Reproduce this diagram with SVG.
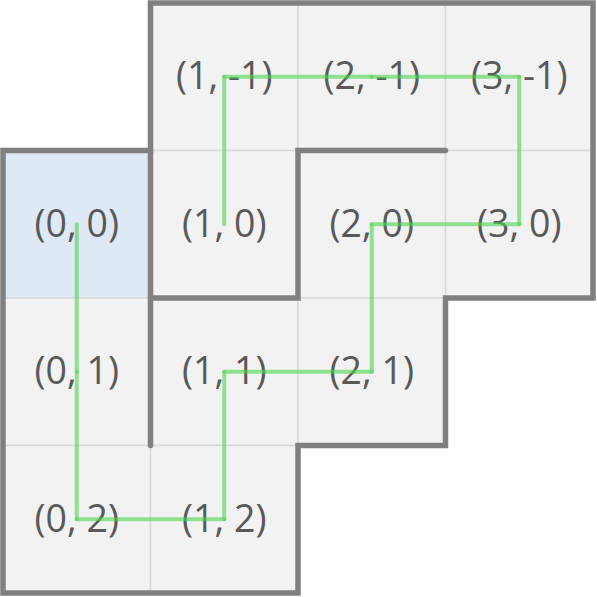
<svg xmlns="http://www.w3.org/2000/svg" width="597" height="597" viewBox="0 0 597 597">
<style>
.cell{fill:#f2f2f2;stroke:#d9d9d9;stroke-width:1.5}
.start{fill:#dee9f5}
.lbl{font-family:"Open Sans","Liberation Sans",sans-serif;font-size:37.5px;fill:#595959;text-anchor:middle}
.wall{fill:none;stroke:#808080;stroke-width:5.5;stroke-linecap:round;stroke-linejoin:miter}
.seg{stroke:#4cd44c;stroke-opacity:0.6;stroke-width:4;stroke-linecap:round}
</style>
<rect width="597" height="597" fill="#ffffff"/>
<g id="cell-1_-1"><rect class="cell" x="150.5" y="3" width="147.5" height="147.5"/><text class="lbl" x="224.25" y="89">(1, -1)</text></g>
<g id="cell-2_-1"><rect class="cell" x="298" y="3" width="147.5" height="147.5"/><text class="lbl" x="371.75" y="89">(2, -1)</text></g>
<g id="cell-3_-1"><rect class="cell" x="445.5" y="3" width="147.5" height="147.5"/><text class="lbl" x="519.25" y="89">(3, -1)</text></g>
<g id="cell-0_0"><rect class="cell start" x="3" y="150.5" width="147.5" height="147.5"/><text class="lbl" x="76.75" y="236.5">(0, 0)</text></g>
<g id="cell-1_0"><rect class="cell" x="150.5" y="150.5" width="147.5" height="147.5"/><text class="lbl" x="224.25" y="236.5">(1, 0)</text></g>
<g id="cell-2_0"><rect class="cell" x="298" y="150.5" width="147.5" height="147.5"/><text class="lbl" x="371.75" y="236.5">(2, 0)</text></g>
<g id="cell-3_0"><rect class="cell" x="445.5" y="150.5" width="147.5" height="147.5"/><text class="lbl" x="519.25" y="236.5">(3, 0)</text></g>
<g id="cell-0_1"><rect class="cell" x="3" y="298" width="147.5" height="147.5"/><text class="lbl" x="76.75" y="384">(0, 1)</text></g>
<g id="cell-1_1"><rect class="cell" x="150.5" y="298" width="147.5" height="147.5"/><text class="lbl" x="224.25" y="384">(1, 1)</text></g>
<g id="cell-2_1"><rect class="cell" x="298" y="298" width="147.5" height="147.5"/><text class="lbl" x="371.75" y="384">(2, 1)</text></g>
<g id="cell-0_2"><rect class="cell" x="3" y="445.5" width="147.5" height="147.5"/><text class="lbl" x="76.75" y="531.5">(0, 2)</text></g>
<g id="cell-1_2"><rect class="cell" x="150.5" y="445.5" width="147.5" height="147.5"/><text class="lbl" x="224.25" y="531.5">(1, 2)</text></g>
<g id="walls">
<path class="wall" d="M150.5,3 H593 V298 H445.5 V445.5 H298 V593 H3 V150.5 H150.5 Z"/>
<path class="wall" d="M150.5,150.5 V445.5"/>
<path class="wall" d="M150.5,298 H298 V150.5 H445.5"/>
</g>
<g id="connectors">
<line class="seg" x1="224.25" y1="224.25" x2="224.25" y2="76.75"/>
<line class="seg" x1="224.25" y1="76.75" x2="371.75" y2="76.75"/>
<line class="seg" x1="371.75" y1="76.75" x2="519.25" y2="76.75"/>
<line class="seg" x1="519.25" y1="76.75" x2="519.25" y2="224.25"/>
<line class="seg" x1="519.25" y1="224.25" x2="371.75" y2="224.25"/>
<line class="seg" x1="371.75" y1="224.25" x2="371.75" y2="371.75"/>
<line class="seg" x1="371.75" y1="371.75" x2="224.25" y2="371.75"/>
<line class="seg" x1="224.25" y1="371.75" x2="224.25" y2="519.25"/>
<line class="seg" x1="224.25" y1="519.25" x2="76.75" y2="519.25"/>
<line class="seg" x1="76.75" y1="519.25" x2="76.75" y2="371.75"/>
<line class="seg" x1="76.75" y1="371.75" x2="76.75" y2="224.25"/>
</g>
</svg>
